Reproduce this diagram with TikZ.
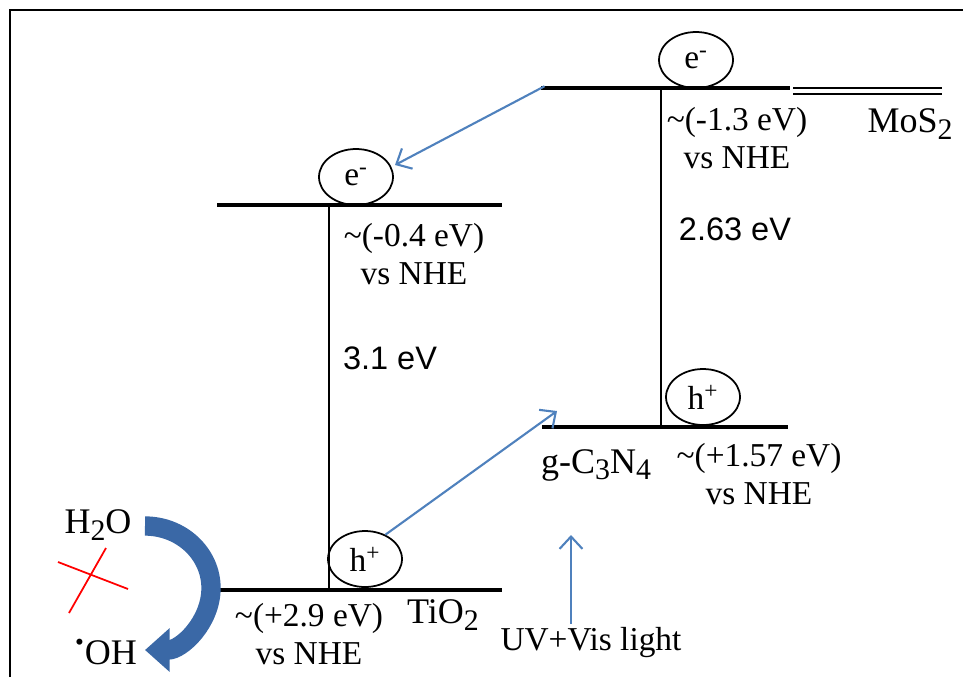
\documentclass[tikz,border=0pt]{standalone}
\usepackage{fontspec}
\setmainfont{Liberation Serif}
\setsansfont{Liberation Sans}
\usepackage{xcolor}
\usetikzlibrary{shapes,arrows.meta,positioning,calc}
\definecolor{flowblue}{RGB}{79,129,189}
\definecolor{bandblue}{RGB}{58,104,166}
\newcommand{\lowsub}[1]{\raisebox{-0.4ex}{\fontsize{17}{17}\selectfont #1}}

\begin{document}
\begin{tikzpicture}[x=0.02cm, y=-0.02cm, font=\fontsize{19}{21.5}\selectfont,
  level/.style={line width=2.4pt},
  gap/.style={line width=1.1pt},
  carrier/.style={draw, ellipse, line width=1pt, inner sep=0pt, minimum width=1.48cm, minimum height=1.12cm},
  flow/.style={-{Straight Barb[length=7pt,width=13pt]}, flowblue, line width=1.2pt},
  val/.style={align=center, inner sep=0pt},
  chem/.style={font=\fontsize{20.5}{23}\selectfont}]
\useasboundingbox (0,0) rectangle (963,677);
\draw[line width=1.6pt] (10,677) -- (10,10) -- (963,10);
% TiO2 levels
\coordinate (tcbL) at (217,205); \coordinate (tcbR) at (502,205);
\coordinate (tvbL) at (217,590); \coordinate (tvbR) at (502,590);
\coordinate (tgapT) at (329,205); \coordinate (tgapB) at (329,590);
\draw[level] (tcbL) -- (tcbR);
\draw[level] (tvbL) -- (tvbR);
\draw[gap] (tgapT) -- (tgapB);
\node[carrier] (te) at (356,177) {e\textsuperscript{-}};
\node[carrier] (th) at (365,559) {h\textsuperscript{+}};
\node[val] (tcbval) at (414,254) {\textasciitilde(-0.4 eV)\\vs NHE};
\node[val] (tvbval) at (309,634) {\textasciitilde(+2.9 eV)\\vs NHE};
\node[font=\sffamily\fontsize{18.5}{21}\selectfont] (tgap) at (390,358) {3.1 eV};
\node[chem] (tio2) at (443,615) {TiO\lowsub{2}};
% g-C3N4 levels
\coordinate (gcbL) at (541,88); \coordinate (gcbR) at (790,88);
\coordinate (gvbL) at (542,427); \coordinate (gvbR) at (788,427);
\coordinate (ggapT) at (661,88); \coordinate (ggapB) at (661,427);
\draw[level] (gcbL) -- (gcbR);
\draw[level] (gvbL) -- (gvbR);
\draw[gap] (ggapT) -- (ggapB);
\node[carrier] (ge) at (696,60) {e\textsuperscript{-}};
\node[carrier] (gh) at (703,397) {h\textsuperscript{+}};
\node[val] (gcbval) at (737,138) {\textasciitilde(-1.3 eV)\\vs NHE};
\node[val] (gvbval) at (759,474) {\textasciitilde(+1.57 eV)\\vs NHE};
\node[font=\sffamily\fontsize{18.5}{21}\selectfont] (ggap) at (735,229) {2.63 eV};
\node[chem] (gcn) at (596,465) {g-C\lowsub{3}N\lowsub{4}};
% MoS2
\coordinate (mosL) at (793,91); \coordinate (mosR) at (942,91);
\draw[gap, double, double distance=2.2pt] (mosL) -- (mosR);
\node[chem] (mos2) at (910,124) {MoS\lowsub{2}};
% charge transfer
\coordinate (eend) at (395,165);
\coordinate (hend) at (557,411);
\draw[flow] ([xshift=2pt,yshift=1pt]gcbL) -- (eend);
\draw[flow] (th.50) -- (hend);
\node (light) at (591,643) {UV+Vis light};
\coordinate (lightTip) at (571,535);
\draw[flow] (lightTip |- 0,624) -- (lightTip);
% water oxidation blocked
\node[chem] (h2o) at (98,525) {H\lowsub{2}O};
\node[chem] (oh) at (106,652) {\textsuperscript{•}OH};
\draw[bandblue, line width=11pt, -{Triangle[length=14pt,width=24pt]}] (145,526) arc[start angle=-90, end angle=90, x radius=66, y radius=62];
\draw[red, line width=1pt] (58,562) -- (128,589);
\draw[red, line width=1pt] (69,613) -- (106,548);
\end{tikzpicture}
\end{document}
